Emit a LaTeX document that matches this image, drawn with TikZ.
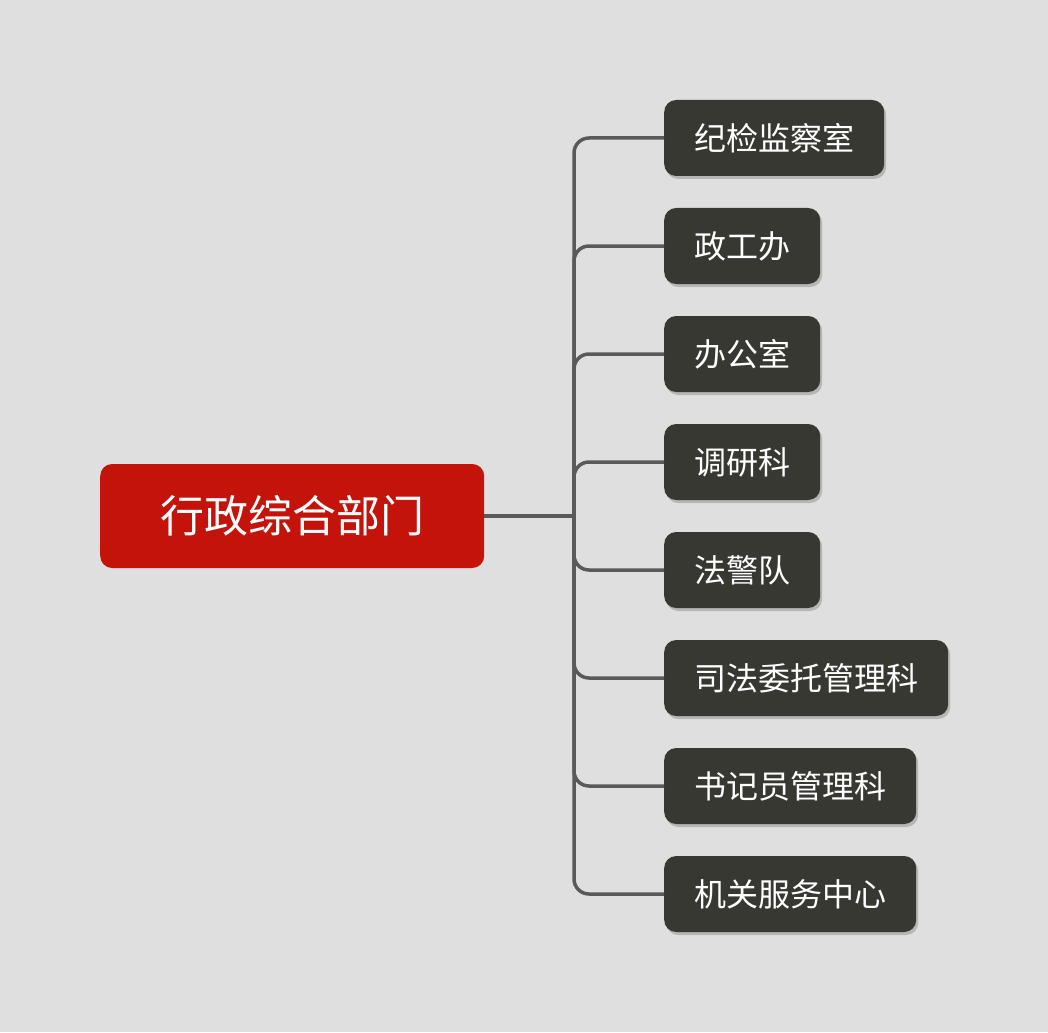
\documentclass[tikz,border=0pt]{standalone}
\usepackage{fontspec}
\newfontfamily\cjk{Noto Sans CJK SC}
\usetikzlibrary{shadows}
\definecolor{bg}{HTML}{DFDFDF}
\definecolor{rootred}{HTML}{C3130A}
\definecolor{boxdark}{HTML}{383833}
\definecolor{linegray}{HTML}{5A5A5A}
\tikzset{
  rootbox/.style={fill=rootred, rounded corners=12pt, text=white, font=\cjk\fontsize{44}{50}\selectfont, minimum width=384pt, minimum height=104pt, inner sep=0pt, anchor=west},
  childbox/.style={fill=boxdark, rounded corners=12pt, text=white, font=\cjk\fontsize{32}{38}\selectfont, minimum height=76pt, inner xsep=30pt, inner ysep=0pt, anchor=west,
    drop shadow={shadow xshift=2pt, shadow yshift=-3pt, opacity=0.18, fill=black}},
  conn/.style={draw=linegray, line width=3.5pt, rounded corners=15pt}
}
\begin{document}
\begin{tikzpicture}[x=1pt,y=-1pt]
\useasboundingbox (0,0) rectangle (1048,1032);
\fill[bg] (0,0) rectangle (1048,1032);
\node[rootbox] (root) at (100,516) {行政综合部门};
\coordinate (j) at (574,516);
\node[childbox] (c1) at (664,138) {纪检监察室};
\node[childbox] (c2) at (664,246) {政工办};
\node[childbox] (c3) at (664,354) {办公室};
\node[childbox] (c4) at (664,462) {调研科};
\node[childbox] (c5) at (664,570) {法警队};
\node[childbox] (c6) at (664,678) {司法委托管理科};
\node[childbox] (c7) at (664,786) {书记员管理科};
\node[childbox] (c8) at (664,894) {机关服务中心};
\begin{scope}[on background layer/.style={}]
\draw[conn, rounded corners=0pt] (root.east) -- (j);
\foreach \c in {c1,c2,c3,c4,c5,c6,c7,c8} {
  \draw[conn] (j) |- (\c.west);
}
\end{scope}
\end{tikzpicture}
\end{document}
